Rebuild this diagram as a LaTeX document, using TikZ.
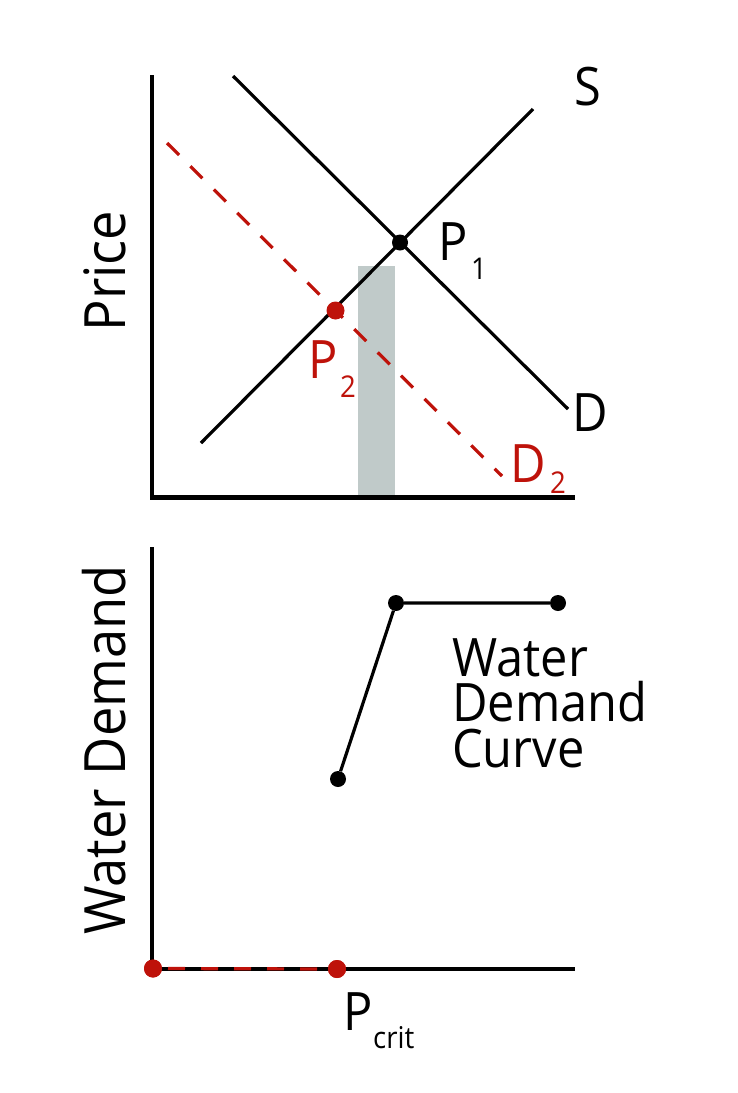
\documentclass[tikz,border=0pt]{standalone}
\usepackage{fontspec}
\setmainfont[FakeStretch=0.92]{Open Sans}
\definecolor{dred}{RGB}{190,18,10}
\definecolor{bargray}{RGB}{192,202,201}
\begin{document}
\begin{tikzpicture}[x=1pt,y=-1pt,
  axis/.style={line width=4.2pt, line join=miter},
  curve/.style={line width=3.2pt},
  reddash/.style={line width=3.2pt, dred, dash pattern=on 17pt off 16pt},
  dot/.style={circle, fill=black, inner sep=0pt, minimum size=16pt},
  rdot/.style={circle, fill=dred, inner sep=0pt, minimum size=18pt},
  big/.style={font=\fontsize{53}{60}\selectfont, inner sep=0pt, anchor=base west},
  small/.style={font=\fontsize{30}{34}\selectfont, inner sep=0pt, anchor=base west},
  axlabel/.style={font=\fontsize{57}{64}\selectfont, inner sep=0pt, rotate=90, anchor=base}]
\useasboundingbox (0,0) rectangle (737,1093);
% ---------- top panel ----------
\fill[bargray] (358,266) rectangle (395,497);
\coordinate (ytop1) at (152,75);
\coordinate (o1) at (152,497.5);
\coordinate (xend1) at (575,497.5);
\draw[axis] (ytop1) -- (o1) -- (xend1);
\coordinate (d0) at (233,76);
\coordinate (d1) at (568,409);
\coordinate (s0) at (201,443);
\coordinate (s1) at (533,109);
\coordinate (e0) at (167,143);
\coordinate (e1) at (502,476);
\draw[curve] (d0) -- (d1);
\draw[curve] (s0) -- (s1);
\draw[reddash] (e0) -- (e1);
\node[dot] (p1) at (400,242.5) {};
\node[rdot] (p2) at (335.5,310.5) {};
\node[big] (lS) at (574,105) {S};
\node[big] (lP1) at (438,260) {P};
\node[small] (lP1s) at (471,279) {1};
\node[big, text=dred] (lP2) at (308,378) {P};
\node[small, text=dred] (lP2s) at (340,397) {2};
\node[big] (lD) at (572,431) {D};
\node[big, text=dred] (lD2) at (510,482) {D};
\node[small, text=dred] (lD2s) at (550,493) {2};
\node[axlabel] (lPrice) at (125,271) {Price};
% ---------- bottom panel ----------
\coordinate (ytop2) at (152,547);
\coordinate (o2) at (152,969);
\coordinate (xend2) at (575,969);
\draw[axis] (ytop2) -- (o2) -- (xend2);
\node[rdot] (q0) at (153,968.5) {};
\node[rdot] (qc) at (337,969) {};
\draw[reddash, dash phase=-15pt] (q0.center) -- (qc.center);
\node[rdot] at (153,968.5) {};
\node[rdot] at (337,969) {};
\node[dot] (w0) at (338,779) {};
\node[dot] (w1) at (396,603) {};
\node[dot] (w2) at (558,603) {};
\draw[curve] (w0) -- (w1) -- (w2);
\node[big, font=\fontsize{53}{45.5}\selectfont, align=left] (lcurve) at (452,767) {Water\\Demand\\Curve};
\node[big] (lPc) at (343,1030) {P};
\node[small] (lPcs) at (373,1048) {crit};
\node[axlabel] (lWD) at (125,750) {Water Demand};
\end{tikzpicture}
\end{document}
